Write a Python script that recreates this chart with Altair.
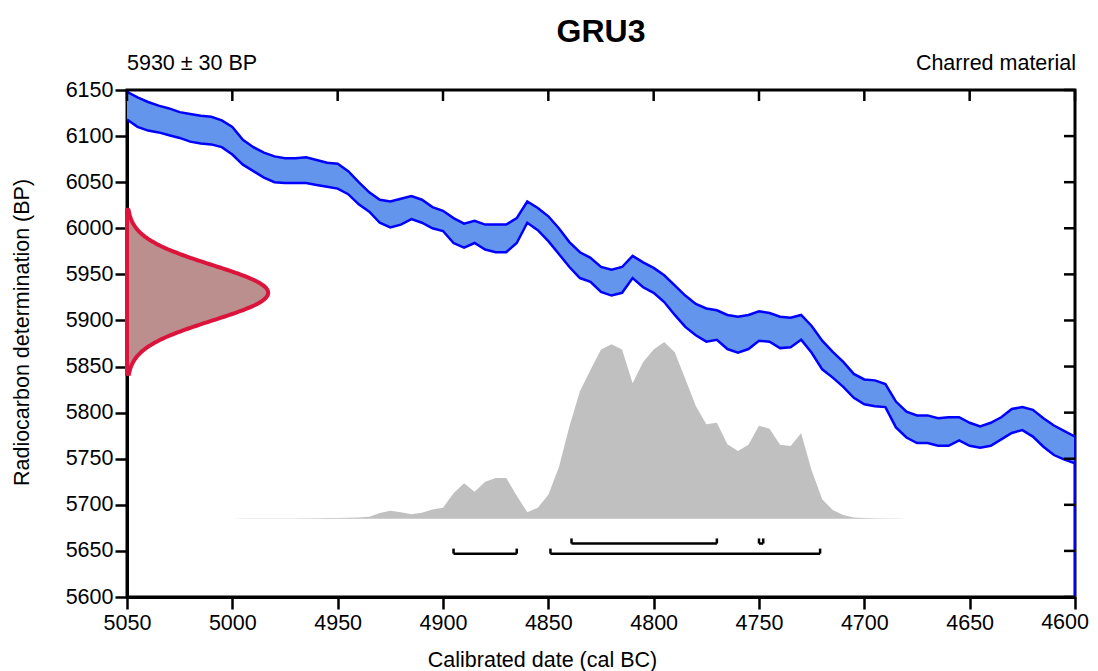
import altair as alt
import numpy as np
import pandas as pd

FONT = "Liberation Sans"

TITLE = "GRU3"
LAB_LEFT = "5930 ± 30 BP"
LAB_RIGHT = "Charred material"
X_TITLE = "Calibrated date (cal BC)"
Y_TITLE = "Radiocarbon determination (BP)"
BP_MEAN = 5930
BP_SD = 30

# Calibration curve (cal BC) with upper / lower 1-sigma envelope (BP)
YEARS = list(range(5050, 4595, -5))
UPPER = [6148, 6142, 6137, 6133, 6130, 6126, 6124, 6122, 6121, 6117,
         6110, 6096, 6088, 6082, 6078, 6076, 6076, 6077, 6074, 6071,
         6070, 6062, 6050, 6039, 6031, 6029, 6032, 6035, 6031, 6023,
         6019, 6011, 6005, 6008, 6004, 6004, 6004, 6011, 6029, 6022,
         6013, 6000, 5985, 5974, 5968, 5958, 5955, 5958, 5970, 5963,
         5957, 5949, 5938, 5927, 5918, 5913, 5911, 5906, 5904, 5906,
         5910, 5908, 5904, 5903, 5906, 5894, 5878, 5866, 5855, 5842,
         5836, 5835, 5831, 5812, 5801, 5797, 5797, 5794, 5795, 5795,
         5789, 5785, 5789, 5795, 5804, 5806, 5803, 5794, 5786, 5780,
         5774]
LOWER = [6118, 6110, 6106, 6104, 6101, 6098, 6094, 6092, 6091, 6088,
         6080, 6069, 6062, 6055, 6050, 6049, 6049, 6049, 6047, 6045,
         6043, 6037, 6026, 6018, 6006, 6001, 6004, 6010, 6006, 6000,
         5997, 5984, 5979, 5984, 5977, 5974, 5974, 5984, 6006, 5998,
         5986, 5972, 5958, 5946, 5942, 5931, 5927, 5930, 5946, 5936,
         5930, 5920, 5906, 5893, 5884, 5877, 5879, 5869, 5865, 5869,
         5878, 5877, 5870, 5871, 5879, 5865, 5847, 5838, 5828, 5816,
         5809, 5807, 5806, 5784, 5773, 5767, 5767, 5764, 5764, 5770,
         5764, 5762, 5764, 5771, 5778, 5781, 5774, 5763, 5754, 5749,
         5745]

# Calibrated probability distribution (relative to peak)
PROB_YEARS = list(range(5000, 4675, -5))
PROB = [0.0, 0.0005, 0.001, 0.001, 0.001, 0.001, 0.001, 0.002, 0.002, 0.003,
        0.003, 0.005, 0.007, 0.011, 0.032, 0.044, 0.036, 0.025, 0.034, 0.052,
        0.062, 0.143, 0.200, 0.152, 0.208, 0.229, 0.230, 0.130, 0.036, 0.062,
        0.135, 0.290, 0.520, 0.720, 0.840, 0.955, 0.985, 0.955, 0.765, 0.885,
        0.955, 0.998, 0.940, 0.790, 0.636, 0.533, 0.542, 0.420, 0.382, 0.418,
        0.525, 0.508, 0.418, 0.410, 0.482, 0.272, 0.110, 0.049, 0.020, 0.007,
        0.003, 0.002, 0.001, 0.001, 0.0]

# Highest probability ranges (cal BC)
R68_START = [4839, 4750]
R68_END = [4770, 4748]
R95_START = [4895, 4849]
R95_END = [4865, 4721]

X_TICKS = list(range(5050, 4595, -50))
Y_TICKS = list(range(5600, 6151, 50))

# layout constants
W, H = 948, 507
X_MIN, X_MAX = 4600, 5050
Y_MIN, Y_MAX = 5600, 6150
PROB_BASE = 5685
PROB_HEIGHT = 192
GAUSS_WIDTH = 67
ROW68, ROW95 = 5658, 5647
BR_TICK = 5.5
FS = 21.5

assert len(YEARS) == len(UPPER) == len(LOWER)
assert len(PROB_YEARS) == len(PROB)

xs = alt.Scale(domain=[X_MIN, X_MAX], reverse=True, nice=False, zero=False)
ys = alt.Scale(domain=[Y_MIN, Y_MAX], nice=False, zero=False)

LAST_X = X_TICKS[-1]
x_axis = alt.Axis(values=X_TICKS, format="d", grid=False, title=X_TITLE,
                  labelExpr=f"datum.value == {LAST_X} ? '' : datum.label",
                  tickSize=12, tickWidth=2.5, tickColor="black",
                  domainWidth=3, domainColor="black",
                  labelFontSize=FS, labelColor="black", labelPadding=3,
                  labelOverlap=False, labelFlush=False,
                  titleFontSize=FS, titleFontWeight="normal", titleColor="black",
                  titleX=415, titleY=69, titleAlign="center",
                  titleBaseline="alphabetic")
y_axis = alt.Axis(values=Y_TICKS, format="d", grid=False, title=Y_TITLE,
                  tickSize=12, tickWidth=2.5, tickColor="black",
                  domainWidth=3, domainColor="black",
                  labelFontSize=FS, labelColor="black", labelPadding=2,
                  labelOverlap=False, labelFlush=False,
                  titleFontSize=FS, titleFontWeight="normal", titleColor="black",
                  titleX=-105, titleY=242, titleAngle=270, titleAlign="center",
                  titleBaseline="middle")


def X(field):
    return alt.X(field, type="quantitative", scale=xs, axis=x_axis)


def Y(field):
    return alt.Y(field, type="quantitative", scale=ys, axis=y_axis)


curve = pd.DataFrame({"year": YEARS, "upper": UPPER, "lower": LOWER})
prob = pd.DataFrame({"year": PROB_YEARS, "p": PROB})
prob["top"] = PROB_BASE + prob["p"] * PROB_HEIGHT
prob["base"] = PROB_BASE

bp = np.arange(BP_MEAN - 3 * BP_SD, BP_MEAN + 3 * BP_SD + 1, 1.0)
dens = np.exp(-0.5 * ((bp - BP_MEAN) / BP_SD) ** 2)
gauss = pd.DataFrame({"bp": bp, "xg": X_MAX - GAUSS_WIDTH * dens, "x0": X_MAX})
outline = pd.concat([
    gauss[["bp", "xg"]],
    pd.DataFrame({"bp": [bp[-1], bp[0]], "xg": [X_MAX, X_MAX]}),
], ignore_index=True)
outline["i"] = range(len(outline))

bars = pd.DataFrame({
    "start": R68_START + R95_START,
    "end": R68_END + R95_END,
    "row": [ROW68] * len(R68_START) + [ROW95] * len(R95_START),
})
bar_ticks = pd.DataFrame({
    "x": list(bars["start"]) + list(bars["end"]),
    "y": list(bars["row"]) * 2,
})
bar_ticks["y2"] = bar_ticks["y"] + BR_TICK

base = alt.Chart(curve)

band = base.mark_area(color="#6495ED", opacity=1, clip=True).encode(
    x=X("year"), y=Y("upper"), y2="lower:Q",
)
up_line = base.mark_line(color="#0000FF", strokeWidth=2.5, clip=True).encode(
    x=X("year"), y=Y("upper"),
)
lo_line = base.mark_line(color="#0000FF", strokeWidth=2.5, clip=True).encode(
    x=X("year"), y=Y("lower"),
)
edge = alt.Chart(pd.DataFrame({"x": [YEARS[-1]], "y": [Y_MIN], "y2": [UPPER[-1]]})).mark_rule(
    color="#0000FF", strokeWidth=2).encode(
    x=X("x"), y=Y("y"), y2="y2:Q",
)

dist = alt.Chart(prob).mark_area(color="#C0C0C0", opacity=1).encode(
    x=X("year"), y=Y("top"), y2="base:Q",
)

g_area = alt.Chart(gauss).mark_area(orient="horizontal", color="#BC8F8F", opacity=1).encode(
    y=Y("bp"), x=X("xg"), x2="x0:Q",
)
g_line = alt.Chart(outline).mark_line(color="#DC143C", strokeWidth=4, strokeJoin="round").encode(
    x=X("xg"), y=Y("bp"), order="i:Q",
)

bar_h = alt.Chart(bars).mark_rule(color="black", strokeWidth=2.5).encode(
    x=X("start"), x2="end:Q", y=Y("row"),
)
bar_v = alt.Chart(bar_ticks).mark_rule(color="black", strokeWidth=2.5).encode(
    x=X("x"), y=Y("y"), y2="y2:Q",
)

top_ticks = alt.Chart(pd.DataFrame({"year": X_TICKS})).mark_rule(color="black", strokeWidth=2.5).encode(
    x=X("year"), y=alt.value(0), y2=alt.value(11),
)
right_ticks = alt.Chart(pd.DataFrame({"bp": Y_TICKS})).mark_rule(color="black", strokeWidth=2.5).encode(
    y=Y("bp"), x=alt.value(W - 11), x2=alt.value(W),
)

# last x tick label, nudged left so it stays inside the page
last_label = alt.Chart(pd.DataFrame({"year": [LAST_X], "t": [str(LAST_X)]})).mark_text(
    align="right", baseline="top", fontSize=FS, font=FONT, color="black", dx=14
).encode(x=X("year"), y=alt.value(H + 15), text="t:N")

t_title = alt.Chart(pd.DataFrame({"t": [TITLE]})).mark_text(
    align="center", baseline="alphabetic", fontSize=32, fontWeight="bold", font=FONT, color="black"
).encode(x=alt.value(W / 2), y=alt.value(-48), text="t:N")
t_left = alt.Chart(pd.DataFrame({"t": [LAB_LEFT]})).mark_text(
    align="left", baseline="alphabetic", fontSize=FS, font=FONT, color="black"
).encode(x=alt.value(0), y=alt.value(-20), text="t:N")
t_right = alt.Chart(pd.DataFrame({"t": [LAB_RIGHT]})).mark_text(
    align="right", baseline="alphabetic", fontSize=FS, font=FONT, color="black"
).encode(x=alt.value(W + 1), y=alt.value(-20), text="t:N")

chart = alt.layer(
    dist, bar_h, bar_v, band, up_line, lo_line, edge, g_area, g_line,
    top_ticks, right_ticks, last_label, t_title, t_left, t_right,
).properties(
    width=W, height=H,
    autosize=alt.AutoSizeParams(type="none"),
    padding={"left": 119, "top": 82, "right": 14, "bottom": 74},
    background="white",
).configure_view(
    stroke="black", strokeWidth=3,
).configure_axis(
    labelFont=FONT, titleFont=FONT,
)

chart.save("out.html", embed_options={"renderer": "svg", "actions": False})
